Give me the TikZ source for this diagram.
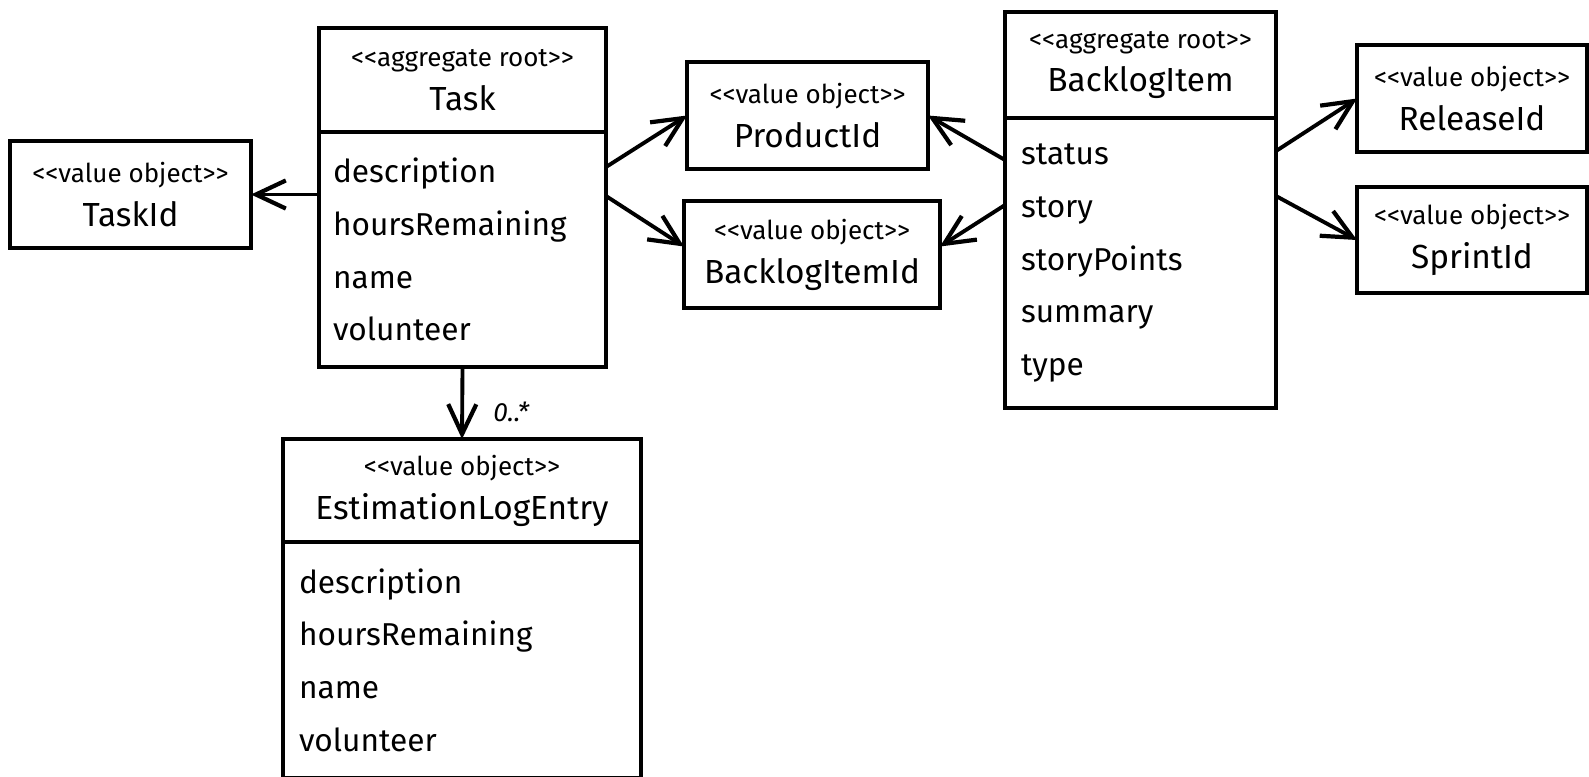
\documentclass[tikz,border=0pt]{standalone}
\usepackage{fontspec}
\setmainfont{Fira Sans}
\usetikzlibrary{positioning,arrows.meta}
\newcommand{\stereo}[1]{{\fontsize{7.4}{8}\selectfont <{}<#1>{}>}}

\begin{document}
\begin{tikzpicture}[x=1cm,y=1cm,
  head/.style={draw,line width=1.4pt,outer sep=0pt,inner sep=0pt,align=center,
    font=\fontsize{9.5}{12.5}\selectfont},
  body/.style={draw,line width=1.4pt,outer sep=0pt,inner ysep=0pt,align=left,
    font=\fontsize{9}{15}\selectfont},
  assoc/.style={line width=1.1pt,-{Straight Barb[length=8.5pt,width=8pt,line width=1.2pt]}}]
\useasboundingbox (0,0) rectangle (15.89,-7.76);
\clip (0,0) rectangle (15.89,-7.76);
% Task aggregate
\node[head,anchor=north west,minimum width=2.87cm,minimum height=1.04cm] (task)
  at (3.19,-0.28) {\stereo{aggregate root}\\Task};
\node[body,anchor=north,inner xsep=0.14cm,text width=2.59cm,minimum height=2.35cm]
  (taskbody) at (task.south) {description\\hoursRemaining\\name\\volunteer};
\node[head,anchor=north west,minimum width=2.41cm,minimum height=1.07cm] (taskid)
  at (0.10,-1.41) {\stereo{value object}\\TaskId};
\node[head,anchor=north west,minimum width=3.58cm,minimum height=1.03cm] (est)
  at (2.83,-4.39) {\stereo{value object}\\EstimationLogEntry};
\node[body,anchor=north,inner xsep=0.16cm,text width=3.26cm,minimum height=2.36cm]
  (estbody) at (est.south) {description\\hoursRemaining\\name\\volunteer};
% shared ids
\node[head,anchor=north west,minimum width=2.41cm,minimum height=1.07cm] (pid)
  at (6.87,-0.62) {\stereo{value object}\\ProductId};
\node[head,anchor=north west,minimum width=2.56cm,minimum height=1.07cm] (bid)
  at (6.84,-2.01) {\stereo{value object}\\BacklogItemId};
% BacklogItem aggregate
\node[head,anchor=north west,minimum width=2.71cm,minimum height=1.06cm] (bl)
  at (10.05,-0.12) {\stereo{aggregate root}\\BacklogItem};
\node[body,anchor=north,inner xsep=0.16cm,text width=2.39cm,minimum height=2.90cm]
  (blbody) at (bl.south) {status\\story\\storyPoints\\summary\\type};
\node[head,anchor=north west,minimum width=2.30cm,minimum height=1.07cm] (rid)
  at (13.57,-0.45) {\stereo{value object}\\ReleaseId};
\node[head,anchor=north west,minimum width=2.30cm,minimum height=1.06cm] (sid)
  at (13.57,-1.87) {\stereo{value object}\\SprintId};
% associations
\draw[assoc] (taskbody.west |- taskid.east) -- (taskid.east);
\draw[assoc] ([yshift=-0.35cm]taskbody.north east) -- (pid.west);
\draw[assoc] ([yshift=-0.64cm]taskbody.north east) -- ([yshift=0.08cm]bid.west);
\draw[assoc] ([yshift=-0.42cm]blbody.north west) -- (pid.east);
\draw[assoc] ([yshift=-0.87cm]blbody.north west) -- ([yshift=0.08cm]bid.east);
\draw[assoc] ([yshift=-0.33cm]blbody.north east) -- (rid.west);
\draw[assoc] ([yshift=-0.78cm]blbody.north east) -- (sid.west);
\draw[assoc] (taskbody.south) -- node[right=5pt,pos=0.62,font=\fontsize{7.5}{9}\selectfont\itshape] (mult) {0..*} (est.north);
\end{tikzpicture}
\end{document}
